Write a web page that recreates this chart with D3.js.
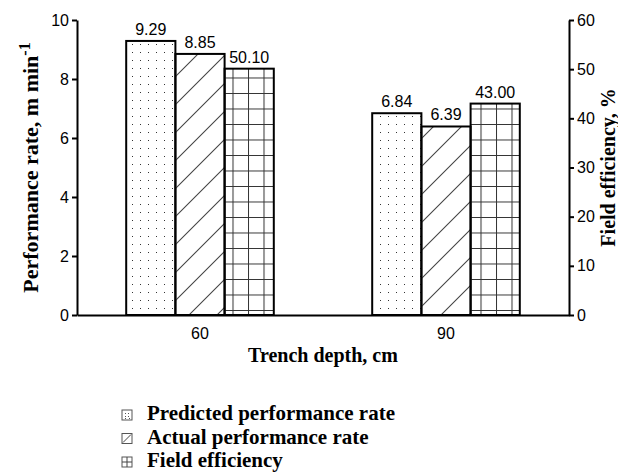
<!DOCTYPE html>
<html>
<head>
<meta charset="utf-8">
<script src="https://cdn.jsdelivr.net/npm/d3@7"></script>
<style>
  body { margin: 0; background: #fff; }
  .tick text { font-family: "Liberation Sans", Arial, sans-serif; font-size: 16px; fill: #000; }
  .title { font-family: "Liberation Serif", "Times New Roman", serif; font-weight: bold; fill: #000; }
</style>
</head>
<body>
<div id="chart"></div>
<script>
// data
var depths = ["60", "90"];
var seriesNames = ["Predicted performance rate", "Actual performance rate", "Field efficiency"];
var predicted = [9.29, 6.84];
var actual = [8.85, 6.39];
var efficiency = [50.10, 43.00];
var leftTicks = [0, 2, 4, 6, 8, 10];
var rightTicks = [0, 10, 20, 30, 40, 50, 60];

var WIDTH = 618, HEIGHT = 473;
var X_LEFT = 77, X_RIGHT = 569, Y_TOP = 20, Y_BOTTOM = 315;

var svg = d3.select("#chart").append("svg")
    .attr("width", WIDTH)
    .attr("height", HEIGHT);

// fill patterns
var defs = svg.append("defs");
var dots = defs.append("pattern").attr("id", "dots")
    .attr("patternUnits", "userSpaceOnUse").attr("width", 8).attr("height", 8);
dots.append("rect").attr("x", 4).attr("y", 4).attr("width", 1).attr("height", 1).attr("fill", "#333");

var hatch = defs.append("pattern").attr("id", "hatch")
    .attr("patternUnits", "userSpaceOnUse").attr("width", 28).attr("height", 28);
hatch.append("path")
    .attr("d", "M0,28 L28,0 M-7,7 L7,-7 M21,35 L35,21")
    .attr("stroke", "#444").attr("stroke-width", 1.1);

var grid = defs.append("pattern").attr("id", "grid")
    .attr("patternUnits", "userSpaceOnUse").attr("width", 15.5).attr("height", 15.5);
grid.append("path")
    .attr("d", "M0,0.5 H15.5 M0.5,0 V15.5")
    .attr("stroke", "#333").attr("stroke-width", 1).attr("fill", "none");

// scales
var x0 = d3.scaleBand().domain(depths).range([X_LEFT, X_RIGHT])
    .paddingInner(0.4).paddingOuter(0.2);
var x1 = d3.scaleBand().domain([0, 1, 2]).range([0, x0.bandwidth()]);
var yL = d3.scaleLinear().domain([0, 10]).range([Y_BOTTOM, Y_TOP]);
var yR = d3.scaleLinear().domain([0, 60]).range([Y_BOTTOM, Y_TOP]);

var rows = depths.map(function (d, i) {
    return [
        { depth: d, k: 0, v: predicted[i], y: yL, fill: "url(#dots)" },
        { depth: d, k: 1, v: actual[i], y: yL, fill: "url(#hatch)" },
        { depth: d, k: 2, v: efficiency[i], y: yR, fill: "url(#grid)" }
    ];
});
var bars = [].concat.apply([], rows);

var g = svg.append("g");
g.selectAll("rect.bar")
    .data(bars).enter()
    .append("rect")
    .attr("class", "bar")
    .attr("x", function (d) { return x0(d.depth) + x1(d.k); })
    .attr("width", x1.bandwidth())
    .attr("y", function (d) { return d.y(d.v); })
    .attr("height", function (d) { return Y_BOTTOM - d.y(d.v); })
    .attr("fill", function (d) { return d.fill; })
    .attr("stroke", "#000")
    .attr("stroke-width", 2);

// value labels
g.selectAll("text.val")
    .data(bars).enter()
    .append("text")
    .attr("class", "val")
    .attr("x", function (d) { return x0(d.depth) + x1(d.k) + x1.bandwidth() / 2; })
    .attr("y", function (d) { return d.y(d.v) - 6; })
    .attr("text-anchor", "middle")
    .style("font-family", "'Liberation Sans', Arial, sans-serif")
    .style("font-size", "16px")
    .text(function (d) { return d.v.toFixed(2); });

// axes
function styleAxis(sel) {
    sel.selectAll("path, line").attr("stroke", "#000").attr("stroke-width", 2);
}
svg.append("g").attr("transform", "translate(" + X_LEFT + ",0)")
    .call(d3.axisLeft(yL).tickValues(leftTicks).tickSize(5).tickSizeOuter(0).tickPadding(3))
    .call(styleAxis);
svg.append("g").attr("transform", "translate(" + X_RIGHT + ",0)")
    .call(d3.axisRight(yR).tickValues(rightTicks).tickSize(5).tickSizeOuter(0).tickPadding(3))
    .call(styleAxis);
svg.append("g").attr("transform", "translate(0," + Y_BOTTOM + ")")
    .call(d3.axisBottom(x0).tickSize(0).tickPadding(13))
    .call(styleAxis);

// axis titles
svg.append("text").attr("class", "title")
    .attr("transform", "translate(38," + (Y_TOP + Y_BOTTOM) / 2 + ") rotate(-90)")
    .attr("text-anchor", "middle")
    .style("font-size", "22px")
    .text("Performance rate, m min")
    .append("tspan").attr("dy", -8).style("font-size", "16px").text("-1");
svg.append("text").attr("class", "title")
    .attr("transform", "translate(615," + (Y_TOP + Y_BOTTOM) / 2 + ") rotate(-90)")
    .attr("text-anchor", "middle")
    .style("font-size", "20px")
    .text("Field efficiency, %");
svg.append("text").attr("class", "title")
    .attr("x", (X_LEFT + X_RIGHT) / 2).attr("y", 362)
    .attr("text-anchor", "middle")
    .style("font-size", "20px")
    .text("Trench depth, cm");

// legend
var legend = svg.append("g").selectAll("g")
    .data(seriesNames).enter()
    .append("g")
    .attr("transform", function (d, i) { return "translate(122," + (420 + i * 23.5) + ")"; });
legend.append("rect")
    .attr("x", 0).attr("y", -10).attr("width", 10).attr("height", 10)
    .attr("fill", "#fff").attr("stroke", "#555").attr("stroke-width", 1);
legend.each(function (d, i) {
    var s = d3.select(this);
    if (i === 0) {
        [[3, -7], [6, -7], [3, -4], [6, -4], [3, -2], [7, -2]].forEach(function (p) {
            s.append("rect").attr("x", p[0]).attr("y", p[1]).attr("width", 1).attr("height", 1).attr("fill", "#555");
        });
    } else if (i === 1) {
        s.append("path").attr("d", "M1,-1 L9,-9").attr("stroke", "#444").attr("stroke-width", 1);
    } else {
        s.append("path").attr("d", "M5,-10 V0 M0,-5 H10").attr("stroke", "#444").attr("stroke-width", 1);
    }
});
legend.append("text").attr("class", "title")
    .attr("x", 25).attr("y", 0)
    .style("font-size", "21px")
    .text(function (d) { return d; });
</script>
</body>
</html>
